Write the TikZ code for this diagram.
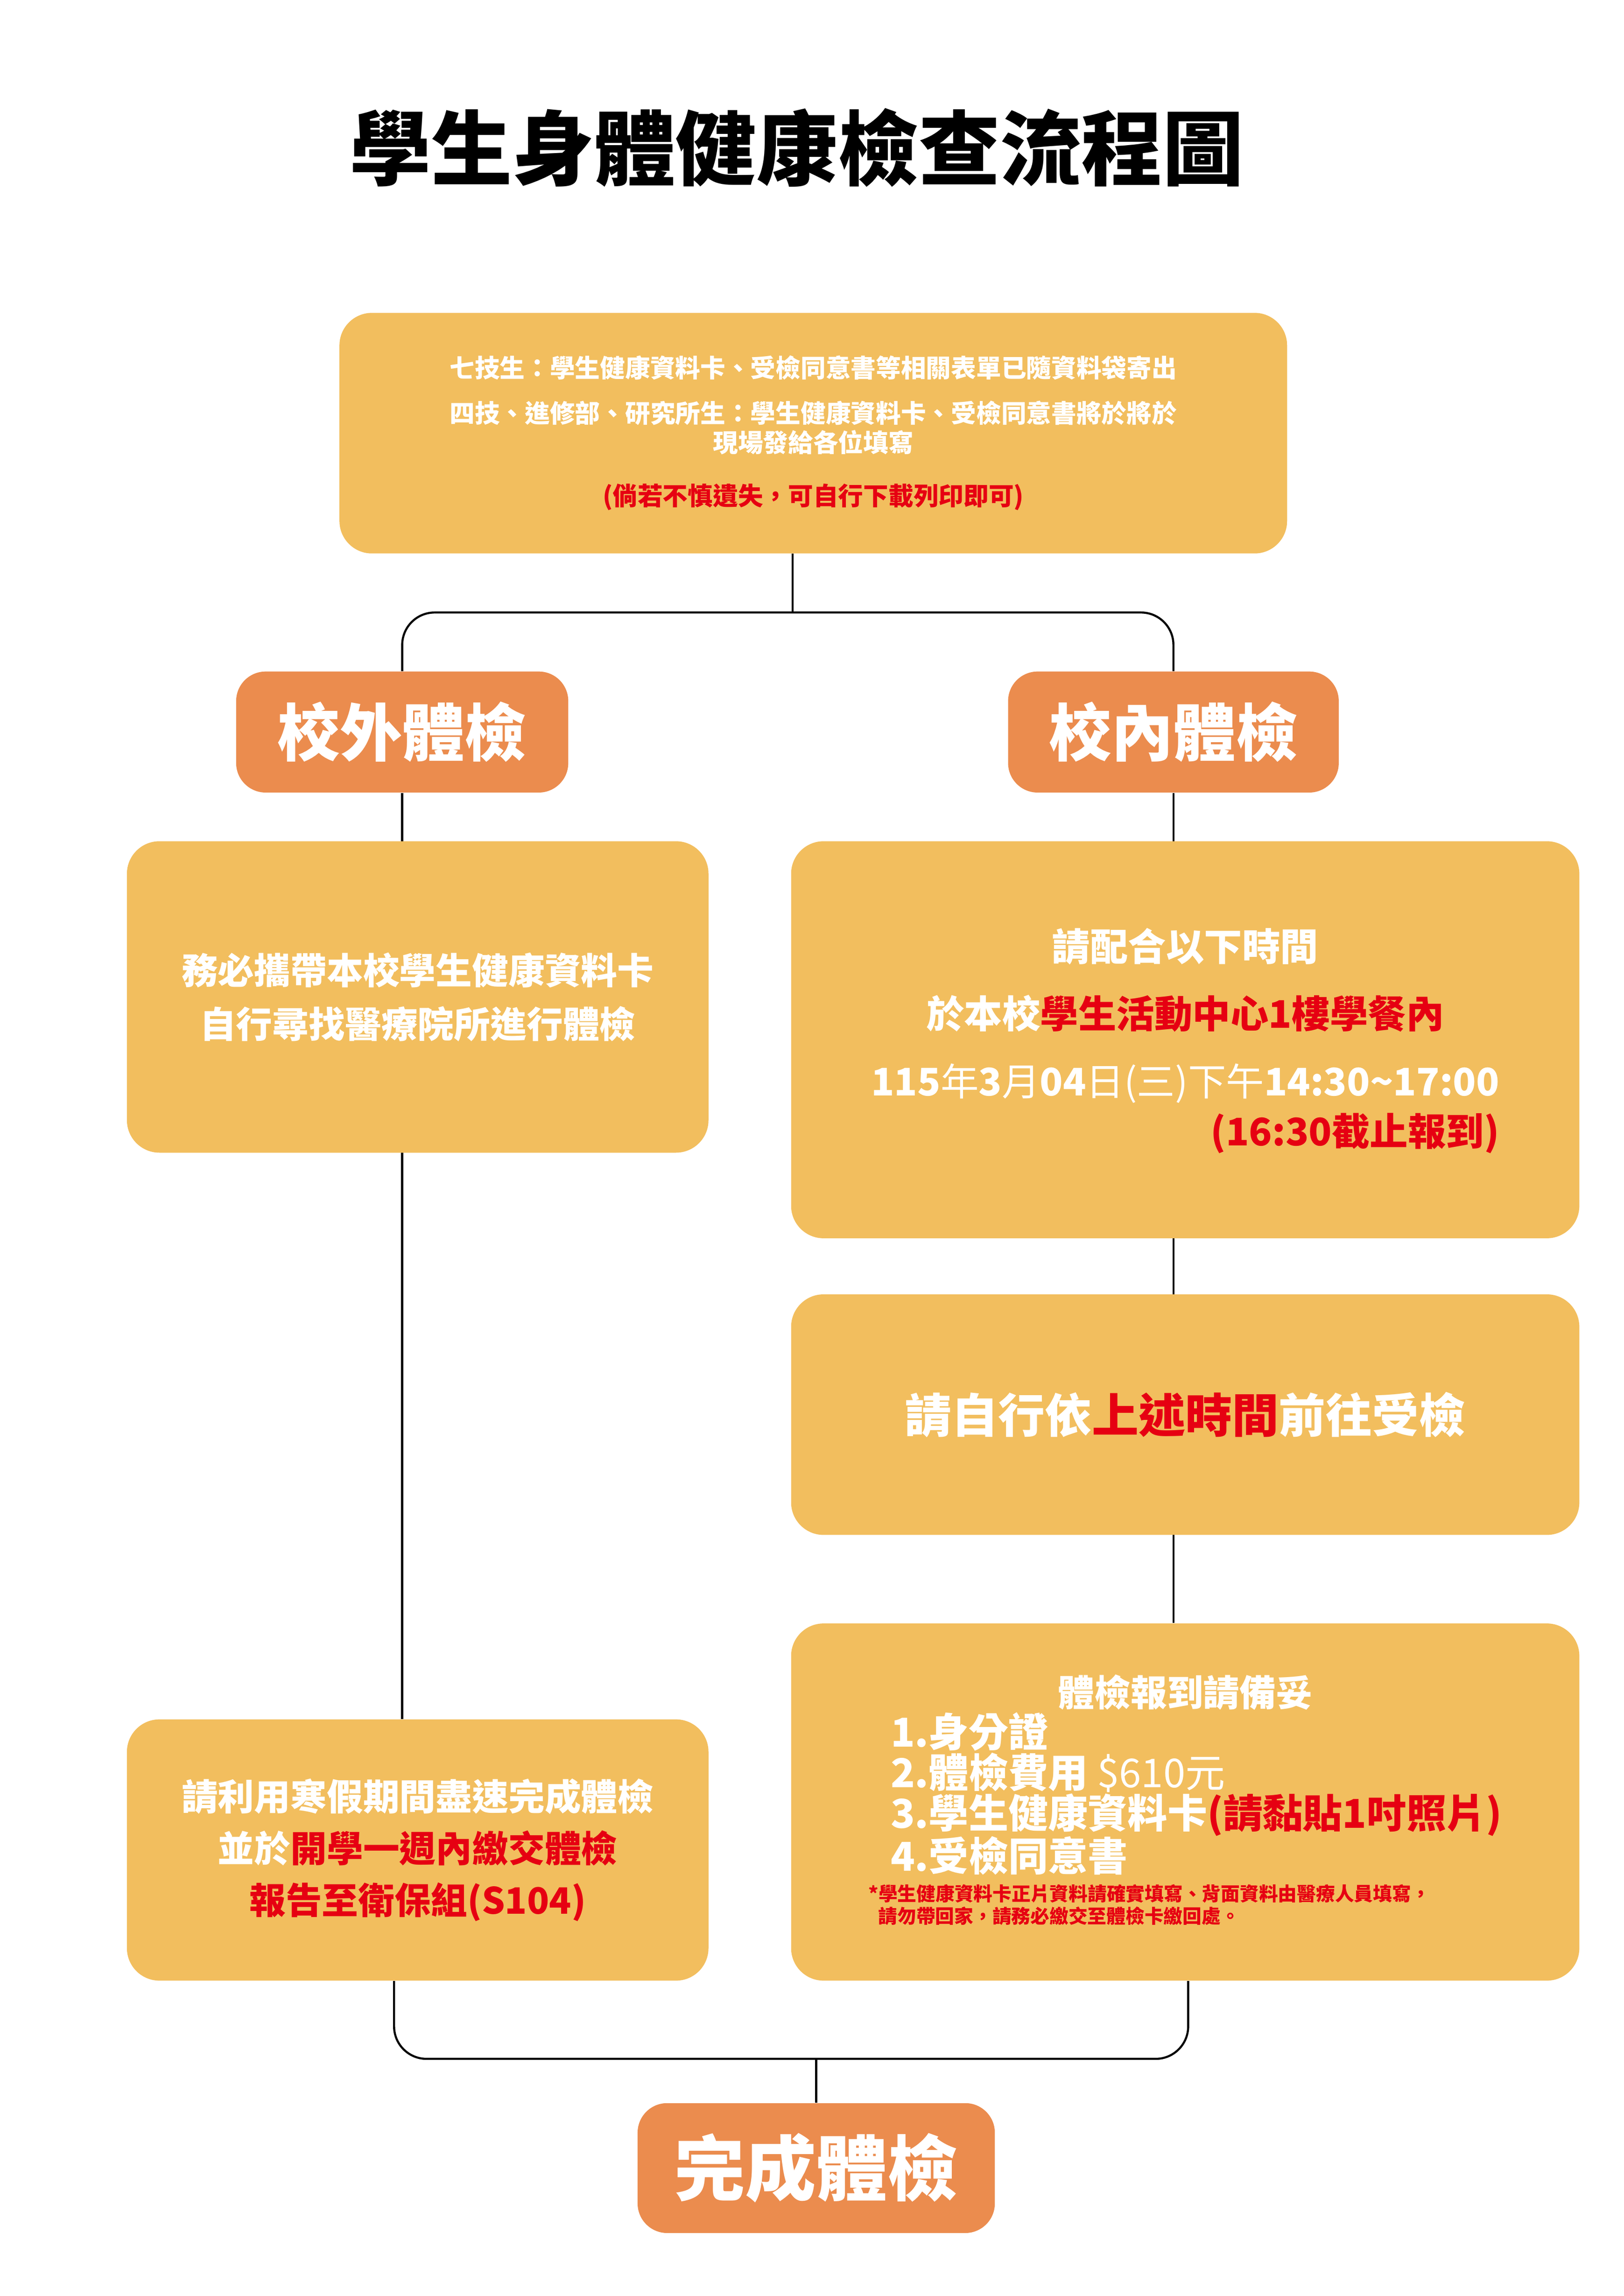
\documentclass[tikz,border=0pt]{standalone}
\usepackage{fontspec}
\setmainfont{Noto Sans CJK TC}
\usetikzlibrary{backgrounds}
\definecolor{boxyellow}{HTML}{F2BE5E}
\definecolor{hdrorange}{HTML}{EB8C4E}
\definecolor{alertred}{HTML}{E60012}
\newcommand{\hot}[1]{\textcolor{alertred}{#1}}
\tikzset{
    box/.style={rectangle, rounded corners=0.66cm, fill=boxyellow, text=white, font=\bfseries, align=center},
    hdr/.style={rectangle, rounded corners=0.6cm, fill=hdrorange, text=white, font=\bfseries\fontsize{36}{40}\selectfont},
    link/.style={draw=black, line width=1.2pt},
}
\begin{document}
\begin{tikzpicture}[x=0.03cm,y=-0.03cm]
\useasboundingbox (0,0) rectangle (1100,1555.7);

\node[font=\bfseries\fontsize{47}{50}\selectfont] (title) at (540,100) {學生身體健康檢查流程圖};

\node[box, minimum width=19.26cm, minimum height=4.89cm, font=\bfseries\fontsize{14.5}{17}\selectfont] (notice) at (551,293.5)
  {七技生：學生健康資料卡、受檢同意書等相關表單已隨資料袋寄出\\[9pt]
   四技、進修部、研究所生：學生健康資料卡、受檢同意書將於將於\\
   現場發給各位填寫\\[14pt]
   \hot{(倘若不慎遺失，可自行下載列印即可)}};

\node[hdr, minimum width=6.75cm, minimum height=2.46cm] (outside) at (272.5,496) {校外體檢};
\node[hdr, minimum width=6.72cm, minimum height=2.46cm] (inside) at (795,496) {校內體檢};

\node[box, minimum width=11.82cm, minimum height=6.33cm, font=\bfseries\fontsize{21}{31}\selectfont] (clinic) at (283,675.5)
  {務必攜帶本校學生健康資料卡\\自行尋找醫療院所進行體檢};

\node[box, minimum width=16.02cm, minimum height=8.07cm, font=\bfseries\fontsize{22}{39}\selectfont] (schedule) at (803,704.5)
  {\begin{tabular}{@{}c@{}}
   請配合以下時間\\
   於本校\hot{學生活動中心1樓學餐內}\\
   115{\mdseries 年}3{\mdseries 月}04{\mdseries 日(三)下午}14:30\textasciitilde 17:00\\[-10pt]
   \multicolumn{1}{@{}r@{}}{\hot{(16:30截止報到)}}
   \end{tabular}};

\node[box, minimum width=16.02cm, minimum height=4.89cm, font=\bfseries\fontsize{27}{32}\selectfont] (go) at (803,958.5)
  {請自行依\hot{上述時間}前往受檢};

\node[box, minimum width=16.02cm, minimum height=7.26cm] (bring) at (803,1221)
  {\begin{tabular}{@{}l@{}}
   \multicolumn{1}{@{}c@{}}{\fontsize{21}{26}\selectfont 體檢報到請備妥}\\
   \fontsize{23}{30}\selectfont\hspace*{0.45cm}1.身分證\\
   \fontsize{23}{30}\selectfont\hspace*{0.45cm}2.體檢費用 {\mdseries \$610元}\\
   \fontsize{23}{30}\selectfont\hspace*{0.45cm}3.學生健康資料卡\hot{(請黏貼1吋照片)}\\
   \fontsize{23}{30}\selectfont\hspace*{0.45cm}4.受檢同意書\\[4pt]
   \fontsize{11}{13}\selectfont\hot{*學生健康資料卡正片資料請確實填寫、背面資料由醫療人員填寫，}\\
   \fontsize{11}{13}\selectfont\hot{\hspace*{0.2cm}請勿帶回家，請務必繳交至體檢卡繳回處。}
   \end{tabular}};

\node[box, minimum width=11.82cm, minimum height=5.31cm, font=\bfseries\fontsize{21}{30}\selectfont] (report) at (283,1253.5)
  {請利用寒假期間盡速完成體檢\\並於\hot{開學一週內繳交體檢}\\\hot{報告至衛保組(S104)}};

\node[hdr, minimum width=7.26cm, minimum height=2.64cm, font=\bfseries\fontsize{41}{45}\selectfont] (done) at (553,1469) {完成體檢};

\coordinate (split) at (537,415);
\coordinate (merge) at (553,1395);

\begin{scope}[on background layer]
\draw[link] (notice.south -| split) -- (split);
\draw[link, rounded corners=0.66cm] (outside.north) |- (split) -| (inside.north);
\draw[link] (outside.south) -- (report.north -| outside.south);
\draw[link] (inside.south) -- (bring.north -| inside.south);
\draw[link, rounded corners=0.66cm] ([xshift=-0.48cm]report.south) |- (merge) -| ([xshift=0.06cm]bring.south);
\draw[link] (merge) -- (done.north);
\end{scope}
\end{tikzpicture}
\end{document}
